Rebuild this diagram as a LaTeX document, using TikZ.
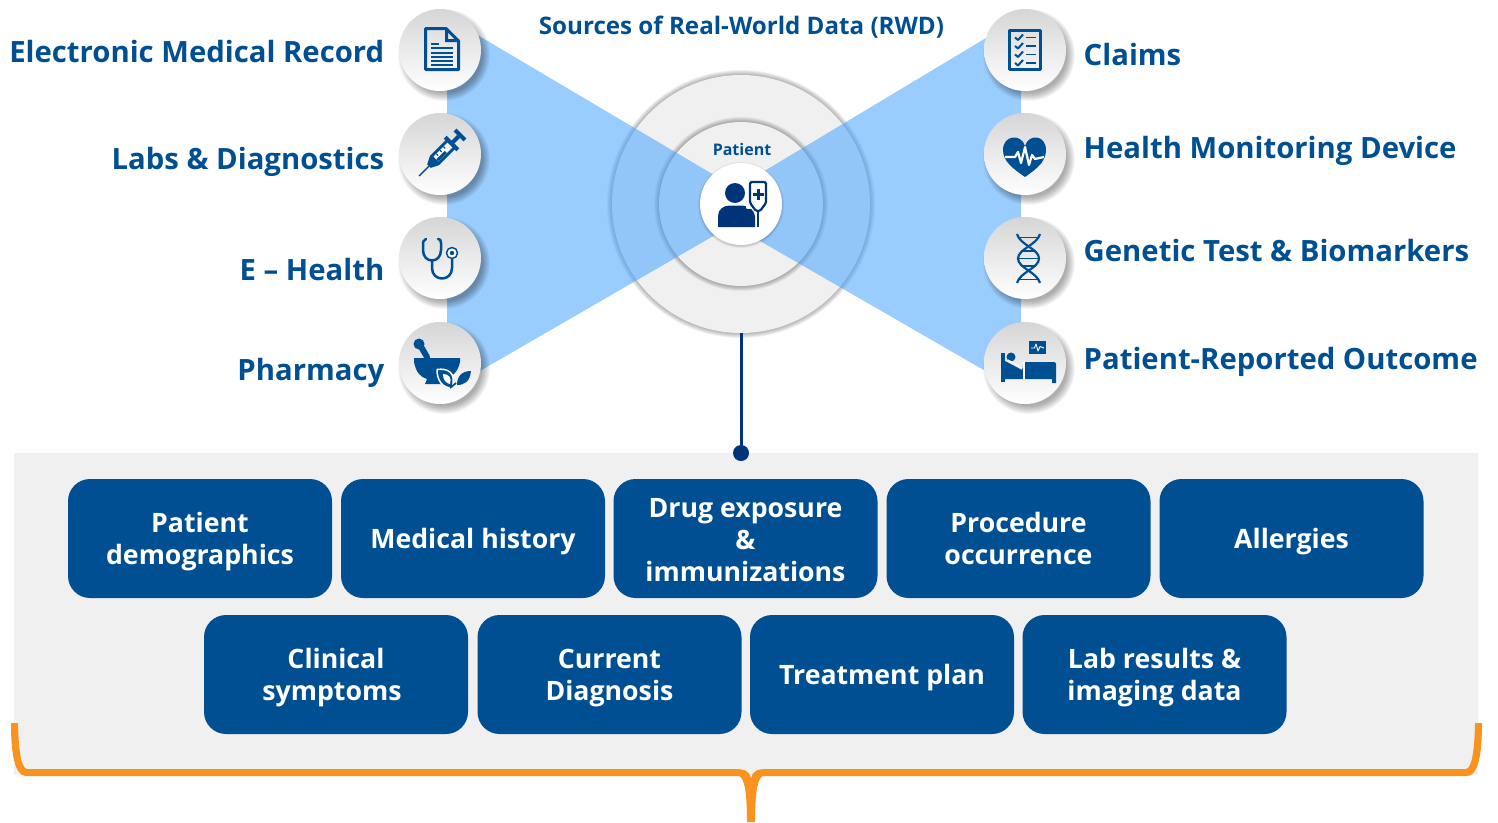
\documentclass[tikz,border=0pt]{standalone}
\usepackage{fontspec}
\setmainfont{Open Sans}
\usetikzlibrary{calc}
\definecolor{brandblue}{HTML}{004F92}
\definecolor{navy}{HTML}{003478}
\definecolor{panelgray}{HTML}{F0F0F0}
\definecolor{bowblue}{RGB}{69,162,255}
\definecolor{orangebrace}{HTML}{F7931E}
\definecolor{topgray}{HTML}{D6D6D6}
\tikzset{
  iconcircle/.style={circle,inner sep=0pt,minimum size=82pt,shade,top color=topgray,middle color=white,bottom color=white},
  ring/.style={circle,inner sep=0pt,fill=panelgray},
  leftlabel/.style={anchor=base east,inner sep=0pt,text=brandblue,font=\fontsize{29.3}{34}\selectfont\bfseries},
  rightlabel/.style={anchor=base west,inner sep=0pt,text=brandblue,font=\fontsize{29.3}{34}\selectfont\bfseries},
  databox/.style={rectangle,rounded corners=22pt,fill=brandblue,text=white,inner sep=0pt,minimum width=264pt,minimum height=119pt,align=center,font=\fontsize{26.7}{32}\selectfont\bfseries},
  ico/.style={fill=brandblue,draw=none},
  icoline/.style={draw=brandblue,fill=none,line width=3pt},
}
\newcommand{\softshadow}[5]{% x y r spread opacity
  \foreach \k in {0,1,...,11}{
    \fill[black,opacity=#5] (#1,#2) circle ({#3+#4*(1-\k/11)});
  }
}
\newcommand{\lowr}{\rule{0pt}{26.5pt}}
\begin{document}
\begin{tikzpicture}[x=1pt,y=-1pt,line join=round]
\useasboundingbox (0,0) rectangle (1498,822);
% panel
\fill[panelgray] (14,453) rectangle (1478,775);
% rings
\softshadow{741}{204}{125}{9}{0.05}
\node[ring,minimum size=258pt] (outer) at (741,204) {};
\softshadow{741}{204}{78}{9}{0.05}
\node[ring,minimum size=164pt] (inner) at (741,204) {};
% bow tie
\fill[bowblue,opacity=0.55] (447,17) -- (741,191) -- (741,220) -- (447,390) -- cycle;
\fill[bowblue,opacity=0.55] (1021,17) -- (741,185) -- (741,230) -- (1021,391.5) -- cycle;
% centre
\softshadow{741}{205}{38}{5}{0.032}
\node[circle,fill=white,inner sep=0pt,minimum size=82pt] (centre) at (741,204) {};
\node[inner sep=0pt,text=brandblue,font=\fontsize{16}{18}\selectfont\bfseries] (patient) at (742,149) {Patient};
% title
\node[inner sep=0pt,text=brandblue,font=\fontsize{24.15}{28}\selectfont\bfseries] (title) at (741.5,27) {Sources of Real-World Data (RWD)};
% icon circles
\foreach \n/\x/\y in {a/440/50,b/440/154,c/440/258,d/440/363,e/1025/50,f/1025/154,g/1025/258,h/1025/363}{
  \softshadow{\x+4}{\y+5}{38}{8}{0.032}
  \node[iconcircle] (\n) at (\x,\y) {};
}
% labels
\node[leftlabel] (la) at (384.5,62) {Electronic Medical Record};
\node[leftlabel] (lb) at (384.5,169.5) {Labs \& Diagnostics};
\node[leftlabel] (lc) at (384.5,280) {E – Health};
\node[leftlabel] (ld) at (384.5,380.5) {Pharmacy};
\node[rightlabel] (le) at (1083.5,65) {Claims};
\node[rightlabel] (lf) at (1083.5,158.5) {Health Monitoring Device};
\node[rightlabel] (lg) at (1083.5,261) {Genetic Test \& Biomarkers};
\node[rightlabel] (lh) at (1083.5,369.5) {Patient-Reported Outcome};
% boxes
\node[databox] (b1) at (200,538.5) {\lowr Patient\\demographics};
\node[databox] (b2) at (473,538.5) {\lowr Medical history};
\node[databox] (b3) at (745.5,538.5) {\rule{0pt}{22.5pt}Drug exposure\\\&\\immunizations};
\node[databox] (b4) at (1018.5,538.5) {Procedure\\occurrence};
\node[databox] (b5) at (1291.5,538.5) {\lowr Allergies};
\node[databox] (b6) at (336,674.5) {\lowr Clinical\\symptoms\kern8pt};
\node[databox] (b7) at (609.5,674.5) {\lowr Current\\Diagnosis};
\node[databox] (b8) at (882,674.5) {\lowr Treatment plan};
\node[databox] (b9) at (1154.5,674.5) {\lowr Lab results \&\\imaging data};
% connector
\node[circle,fill=navy,inner sep=0pt,minimum size=16pt] (dot) at (741,453) {};
\draw[navy,line width=3pt] (outer.south) -- (dot.center);
% brace
\fill[orangebrace] (11,723) -- (18,723) .. controls (18.5,750) and (21,768) .. (27,769)
  -- (735,769) .. controls (745,769) and (749,771) .. (751,778)
  .. controls (753,771) and (757,769) .. (767,769)
  -- (1466,769) .. controls (1472,768) and (1474.5,750) .. (1475,723)
  -- (1482,723) .. controls (1482,755) and (1478,776) .. (1467,776)
  -- (764,776) .. controls (758,776) and (755,790) .. (755,822)
  -- (747,822) .. controls (747,790) and (744,776) .. (738,776)
  -- (26,776) .. controls (15,776) and (11,755) .. (11,723) -- cycle;
% doc icon
\draw[icoline] (425.5,28.5) -- (446,28.5) -- (458.5,41) -- (458.5,69.5) -- (425.5,69.5) -- cycle;
\fill[ico] (445,28) -- (448,28) -- (448,39) -- (459,39) -- (459,42) -- (445,42) -- cycle;
\foreach \yy in {48,53,57,61,65}{\fill[ico] (431,\yy-0.8) rectangle (453,\yy+0.8);}
\fill[ico] (431,42.5) rectangle (439,44.5);
% syringe
\begin{scope}[shift={(419,176)},rotate=45,x=1pt,y=1pt]
 \draw[brandblue,line width=1.4pt] (0,0) -- (18,0);
 \fill[ico] (14,-2.5) -- (22,-6.5) -- (46,-6.5) -- (46,6.5) -- (22,6.5) -- (14,2.5) -- cycle;
 \fill[white] (24,-3.5) rectangle (44,3.5);
 \fill[ico] (24,-3.5) rectangle (36,-0.5);
 \foreach \uu in {28,33,38}{\fill[ico] (\uu-.6,3.5) rectangle (\uu+.6,1);}
 \fill[ico] (44,-9) rectangle (48,9);
 \fill[ico] (47,-2) rectangle (58,2);
 \fill[ico] (56,-7) rectangle (60,7);
\end{scope}
% stethoscope
\draw[brandblue,line width=2.5pt,fill=none,line cap=round] (426,239) .. controls (423,240) and (423,242) .. (423,246) -- (423,250) .. controls (423,264) and (441,264) .. (441,250) -- (441,243) .. controls (441,240) and (440,239) .. (438,239);
\draw[brandblue,line width=2.5pt,fill=none] (432,260) -- (432,268) .. controls (432,282) and (452,282) .. (452,268) -- (452,259);
\draw[brandblue,line width=1.5pt,fill=white] (452,253) circle (5.5);
\fill[ico] (452,253) circle (2.2);
% bowl
\draw[brandblue,line width=6pt,line cap=round] (419.5,344) -- (427,357);
\fill[ico] (419,344) circle (5.5);
\fill[ico] (414,358) -- (460,358) -- (460,362) .. controls (458,372) and (452,377) .. (445,379) -- (447,384) -- (425,384) -- (427,379) .. controls (420,377) and (416,372) .. (414,362) -- cycle;
\fill[ico,draw=white,line width=1.5pt] (437,369.5) .. controls (447,368) and (457,372) .. (452,388) .. controls (442,388) and (437,380) .. (437,369.5) -- cycle;
\fill[white] (443,374) .. controls (449,374) and (452,378) .. (450,384) .. controls (445,383) and (443,379) .. (443,374) -- cycle;
\fill[ico] (471,371) .. controls (470,381) and (465,385) .. (457,385) .. controls (457,376) and (462,371) .. (471,371) -- cycle;
\draw[brandblue,line width=1.8pt] (450,388) -- (456,383);
% checklist
\draw[icoline] (1009.5,30.5) rectangle (1040.5,69.5);
\foreach \yy in {37.5,46,54.5,63}{
  \draw[brandblue,line width=2pt] (1015,\yy) -- (1018,\yy+2.5) -- (1023,\yy-3);
  \fill[ico] (1026,\yy-.9) rectangle (1035.5,\yy+.9);
}
% heart
\fill[ico] (1025,177) .. controls (1012,168) and (1003,161) .. (1003,150) .. controls (1003,135) and (1021,133) .. (1025,146) .. controls (1029,133) and (1046,135) .. (1046,150) .. controls (1046,161) and (1038,168) .. (1025,177) -- cycle;
\draw[white,line width=2.2pt] (1005,157) -- (1015,157) -- (1018,152) -- (1021,163) -- (1025,147) -- (1029,165) -- (1032,155) -- (1035,159) -- (1044,157);
% dna
\draw[brandblue,line width=2.2pt] (1017,234) .. controls (1020,245) and (1039,249) .. (1039,258.5) .. controls (1039,268) and (1020,272) .. (1017,283);
\draw[brandblue,line width=2.2pt] (1040,234) .. controls (1037,245) and (1018,249) .. (1018,258.5) .. controls (1018,268) and (1037,272) .. (1040,283);
\foreach \yy/\aa/\bb in {237.5/1018/1039,251/1021/1036,258.5/1019/1038,266/1021/1036,279.5/1018/1039}{\draw[brandblue,line width=1.4pt] (\aa,\yy) -- (\bb,\yy);}
% bed
\fill[ico] (1001,353) rectangle (1005,382);
\fill[ico] (1011,357) circle (4.5);
\fill[ico] (1005,361) -- (1022,370) -- (1024,362) -- (1054,362) .. controls (1055,362) and (1056,363) .. (1056,364) -- (1056,383) -- (1052,383) -- (1052,379) -- (1005,379) -- cycle;
\draw[white,line width=1.2pt] (1024,362) -- (1024,379);
\draw[white,line width=1.2pt] (1008,360) -- (1022,368);
\fill[ico] (1029,341) rectangle (1046,354);
\draw[white,line width=.9pt] (1031,348) -- (1034.5,348) -- (1036,344) -- (1038,351) -- (1040,346.5) -- (1044,348);
% patient icon
\fill[navy] (735,193) circle (10);
\fill[navy] (718,227) -- (718,216) .. controls (718,209) and (724,205.5) .. (730,205.5) -- (742,205.5) .. controls (749,205.5) and (754,210) .. (755,216) -- (755,227) -- cycle;
\draw[white,line width=4pt] (758,207) -- (758,228);
\draw[navy,line width=2.5pt] (758,207) -- (758,227);
\draw[white,line width=1.5pt,fill=white] (747,179) rectangle (769,208);
\draw[navy,line width=2.2pt,fill=white,rounded corners=1.5pt] (750,182) -- (766,182) -- (766,203) -- (760,211) -- (756,211) -- (750,203) -- cycle;
\fill[navy] (756.5,189) rectangle (760,200);
\fill[navy] (752.7,192.7) rectangle (763.8,196.2);
\end{tikzpicture}
\end{document}
